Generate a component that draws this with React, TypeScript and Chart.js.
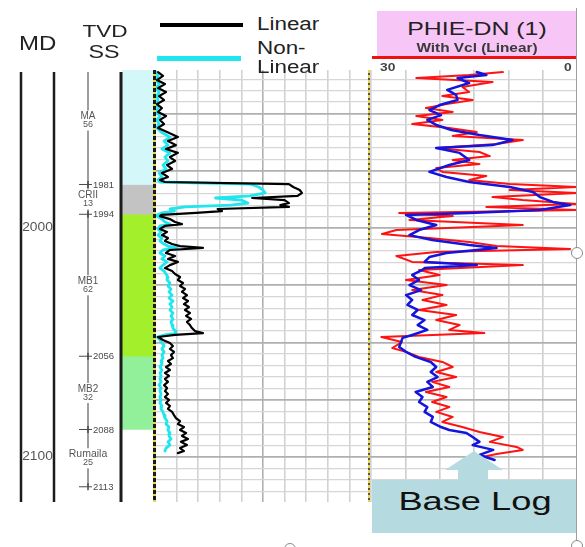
import React, { useEffect, useRef } from 'react';
import { Chart, registerables } from 'chart.js';
Chart.register(...registerables);

const FONT = '"Liberation Sans", Arial, Helvetica, sans-serif';
Chart.defaults.font.family = FONT;

// Depth window shown by the tracks (MD, ft)
const DEPTH_TOP = 1931.0;
const DEPTH_BASE = 2119.65;

// Zonation
const ZONE_NAMES = ['MA', 'CRII', 'MB1', 'MB2', 'Rumaila'];
const ZONE_TOPS = [1925, 1981, 1994, 2056, 2088];
const ZONE_BASES = [1981, 1994, 2056, 2088, 2113];
const ZONE_THICKNESS = [56, 13, 62, 32, 25];
const ZONE_COLORS = ['#d4f7fa', '#c3c3c3', '#a4ef2c', '#92f09a', 'rgba(255,255,255,0)'];
const TVD_MARKERS = [1981, 1994, 2056, 2088, 2113];
const MD_LABELS = [2000, 2100];

// Vcl track (0-100 %)
const VCL_DEPTH = [
  1931.9, 1933.6, 1935.4, 1937.1, 1938.9,
  1940.6, 1942.4, 1944.1, 1945.9, 1947.6,
  1949.3, 1951.1, 1952.8, 1954.6, 1956.3,
  1958.1, 1960.3, 1962.0, 1963.8, 1965.5,
  1967.2, 1969.0, 1970.7, 1972.5, 1974.2,
  1976.0, 1977.7, 1979.0, 1979.9,
  1980.8, 1982.1, 1983.4, 1984.7, 1986.0,
  1986.9, 1987.8, 1989.1, 1990.0, 1990.8,
  1991.7, 1992.6, 1993.4, 1994.3,
  1994.8, 1996.1, 1997.4, 1998.3, 1999.1,
  2000.4, 2001.7, 2003.1, 2004.4, 2005.7,
  2007.0, 2007.9, 2008.7, 2009.6, 2010.9,
  2012.2, 2013.5, 2014.8, 2016.2, 2017.5,
  2018.8, 2020.1, 2021.4, 2022.7, 2024.0,
  2025.3, 2026.6, 2027.9, 2029.3, 2030.6,
  2031.9, 2033.2, 2034.5, 2035.8, 2037.1,
  2038.4, 2039.7, 2041.0, 2042.4, 2043.7,
  2045.0, 2045.9, 2046.7, 2047.6, 2048.9,
  2050.2, 2051.5, 2052.8, 2054.1, 2055.5,
  2056.8, 2058.1, 2059.4, 2060.7, 2062.0,
  2063.3, 2064.6, 2065.9, 2067.2, 2068.6,
  2069.9, 2071.2, 2072.5, 2073.8, 2075.1,
  2076.4, 2077.7, 2079.0, 2080.3, 2081.7,
  2083.0, 2084.3, 2085.6, 2086.9, 2088.2,
  2089.5, 2090.8, 2092.1, 2093.4, 2094.8,
  2096.1, 2097.4, 2098.3,
];
const VCL_LINEAR = [
  1.4, 3.7, 0.9, 4.6, 1.4,
  5.1, 1.9, 4.2, 0.9, 3.2,
  1.4, 5.1, 2.3, 4.2, 1.4,
  5.6, 10.6, 6.0, 9.7, 5.1,
  10.6, 6.9, 9.3, 5.6, 7.9,
  3.2, 6.0, 2.3, 4.6,
  62, 64, 67, 68, 66,
  45, 60, 62, 58, 62,
  29, 31, 19, 3,
  2.3, 6.9, 9.3, 12.5, 4.6,
  2.3, 5.6, 3.2, 6.0, 4.6,
  7.9, 11.6, 22.2, 6.9, 5.1,
  9.3, 6.0, 10.6, 6.9, 4.6,
  7.9, 9.3, 11.6, 10.6, 13.0,
  11.6, 13.9, 12.5, 14.8, 13.0,
  15.3, 13.4, 15.7, 13.9, 16.2,
  14.4, 16.7, 14.8, 16.2, 17.1,
  18.5, 22.2, 9.3, 1.4, 3.7,
  6.9, 8.3, 6.9, 8.8, 7.4,
  8.3, 6.0, 7.4, 5.1, 6.9,
  4.6, 6.5, 4.6, 6.0, 4.2,
  5.6, 4.6, 6.0, 4.6, 6.5,
  5.1, 6.9, 6.0, 7.9, 8.8,
  9.7, 11.6, 10.6, 13.4, 11.6,
  14.4, 12.5, 15.3, 12.0, 14.8,
  11.6, 13.4, 10.6,
];
const VCL_NONLINEAR = [
  0.5, 1.4, 0.5, 1.9, 0.5,
  1.9, 0.9, 1.4, 0.5, 1.4,
  0.5, 2.3, 0.9, 1.9, 0.9,
  2.8, 6.9, 4.2, 6.0, 3.2,
  6.9, 4.6, 6.0, 3.7, 5.1,
  1.9, 3.2, 1.4, 2.3,
  44, 48, 50, 51, 44,
  28, 40, 43, 35, 14,
  7, 9, 3, 1,
  0.9, 3.2, 4.6, 6.9, 2.3,
  1.4, 2.8, 1.4, 3.2, 2.3,
  4.2, 6.0, 10.2, 3.7, 2.3,
  4.6, 3.2, 5.6, 3.7, 2.3,
  4.2, 5.1, 6.0, 5.6, 6.9,
  6.0, 7.4, 6.5, 7.9, 6.5,
  8.3, 6.9, 7.9, 6.9, 8.3,
  7.4, 8.3, 7.4, 7.9, 8.3,
  9.3, 9.7, 4.6, 0.9, 2.3,
  3.2, 4.2, 3.2, 4.2, 3.2,
  3.7, 2.8, 3.2, 2.3, 3.2,
  2.3, 2.8, 2.3, 2.8, 1.9,
  2.8, 2.3, 2.8, 2.3, 2.8,
  2.3, 3.2, 2.8, 3.7, 4.2,
  4.6, 5.6, 5.1, 6.5, 6.0,
  6.9, 6.5, 7.4, 6.0, 6.9,
  5.1, 4.6, null,
];

// PHIE-DN track (30 -> 0 p.u.)
const PHIE_BASE_DEPTH = [
  1931.9, 1933.2, 1934.5, 1936.7, 1939.7,
  1941.9, 1944.1, 1946.3, 1948.5, 1950.7,
  1952.8, 1955.0, 1957.2, 1959.4, 1961.6,
  1963.8, 1965.1, 1967.2, 1970.3, 1972.5,
  1975.5, 1977.7, 1979.9, 1982.1, 1984.3,
  1986.5, 1988.6, 1990.0, 1992.1, 1993.4,
  1994.3, 1996.5, 1998.7, 2000.9, 2003.1,
  2005.2, 2007.4, 2008.7, 2010.9, 2012.7,
  2014.8, 2016.2, 2017.5, 2018.3, 2020.5,
  2022.7, 2024.9, 2027.1, 2029.3, 2031.4,
  2033.6, 2035.8, 2038.0, 2040.2, 2042.4,
  2044.5, 2046.7, 2048.0, 2052.0, 2054.1,
  2056.3, 2058.5, 2060.7, 2062.9, 2065.1,
  2067.2, 2069.4, 2071.6, 2073.8, 2076.0,
  2078.2, 2080.3, 2082.5, 2084.7, 2086.9,
  2088.2, 2089.5, 2091.3, 2093.4, 2094.8,
  2096.9, 2099.1, 2101.3,
];
const PHIE_BASE = [
  14.6, 13.2, 17.4, 15.7, 18.9,
  17.6, 17.4, 20.0, 21.5, 19.8,
  21.8, 20.5, 18.3, 14.2, 9.4,
  12.3, 20.5, 17.1, 15.7, 18.6,
  21.5, 19.0, 15.7, 9.8, 6.4,
  5.4, 3.5, 1.0, 5.4, 15.7,
  24.9, 23.4, 20.5, 23.0, 24.4,
  21.1, 15.7, 11.7, 19.0, 21.5,
  22.2, 14.6, 22.2, 22.5, 24.0,
  23.0, 24.4, 22.7, 24.9, 24.0,
  24.7, 23.2, 24.0, 22.2, 23.2,
  21.8, 24.0, 25.4, 25.9, 24.9,
  23.5, 21.3, 20.5, 21.3, 20.3,
  21.8, 21.0, 23.5, 22.5, 23.0,
  21.8, 22.2, 21.0, 21.3, 19.8,
  18.6, 16.1, 15.2, 14.2, 15.2,
  12.2, 14.2, 12.0,
];
const PHIE_LINEAR_DEPTH = [
  1931.9, 1933.2, 1934.5, 1936.2, 1938.4,
  1940.6, 1942.4, 1944.1, 1945.9, 1947.6,
  1949.3, 1951.1, 1952.8, 1954.6, 1956.3,
  1958.1, 1959.8, 1961.6, 1963.3, 1965.1,
  1966.8, 1968.6, 1970.3, 1972.1, 1973.8,
  1975.5, 1977.3, 1979.0, 1980.8, 1982.1,
  1983.4, 1984.7, 1986.5, 1987.8, 1989.5,
  1990.8, 1992.1, 1993.4, 1994.8, 1996.5,
  1998.7, 2000.9, 2002.6, 2004.4, 2006.1,
  2007.9, 2009.2, 2010.5, 2012.2, 2014.8,
  2016.2, 2018.3, 2020.5, 2022.7, 2024.9,
  2027.1, 2029.3, 2031.4, 2033.6, 2035.8,
  2038.0, 2040.2, 2042.4, 2044.5, 2045.9,
  2047.6, 2049.8, 2052.4, 2054.1, 2056.3,
  2058.5, 2060.7, 2062.9, 2065.1, 2067.2,
  2069.4, 2071.6, 2073.8, 2076.0, 2078.2,
  2080.3, 2082.5, 2084.7, 2086.9, 2089.1,
  2091.3, 2093.4, 2095.6, 2096.9, 2098.7,
  2100.0,
];
const PHIE_LINEAR = [
  10.8, 15.7, 23.4, 12.3, 16.7,
  15.7, 19.6, 15.2, 19.0, 22.0,
  18.1, 23.4, 19.6, 24.0, 18.6,
  14.6, 18.1, 7.9, 11.7, 20.5,
  14.2, 12.7, 18.1, 14.2, 20.5,
  19.6, 13.2, 15.7, 9.8, 0,
  9.8, 0, 12.3, 7.9, 0,
  13.2, 0, 25.9, 18.1, 24.4,
  7.9, 26.3, 28.4, 21.5, 15.7,
  11.7, 1.0, 20.5, 26.3, 24.0,
  7.9, 23.0, 20.0, 24.9, 19.0,
  24.0, 19.6, 22.5, 19.0, 23.0,
  17.6, 20.5, 17.1, 18.6, 13.5,
  28.5, 25.5, 26.9, 24.9, 23.0,
  19.6, 18.1, 20.5, 17.6, 21.1,
  18.6, 22.0, 19.0, 21.1, 18.6,
  20.5, 18.1, 19.6, 16.7, 14.2,
  10.8, 12.7, 8.8, 7.9, 11.7,
  13.8,
];

const depthTicks = (scale: any) => {
  const t: { value: number }[] = [];
  for (let v = 1935; v <= 2115; v += 5) t.push({ value: v });
  scale.ticks = t;
};
const yGrid = {
  drawTicks: false,
  color: (c: any) => (c.tick && c.tick.value % 25 === 0 ? '#b0b0b0' : '#d6d6d6'),
  lineWidth: (c: any) => (c.tick && c.tick.value % 25 === 0 ? 1.7 : 1.2),
};

const mdTvdPlugin = {
  id: 'mdTvd',
  afterDraw(chart: any) {
    const { ctx, chartArea: a, scales } = chart;
    const py = (d: number) => scales.y.getPixelForValue(d);
    ctx.save();
    ctx.strokeStyle = '#1c1c1c';
    ctx.lineWidth = 2.5;
    for (const x of [21, 54]) {
      ctx.beginPath(); ctx.moveTo(x, a.top + 2); ctx.lineTo(x, a.bottom); ctx.stroke();
    }
    ctx.lineWidth = 3;
    ctx.beginPath(); ctx.moveTo(121, a.top + 2); ctx.lineTo(121, a.bottom); ctx.stroke();

    // TVD centre line, broken around zone labels
    const cx = 88;
    const end = py(TVD_MARKERS[TVD_MARKERS.length - 1]) - 1;
    ctx.strokeStyle = '#7d7d7d';
    ctx.lineWidth = 1.5;
    let s = a.top + 2;
    const seg = (y0: number, y1: number) => {
      if (y1 <= y0) return;
      ctx.beginPath(); ctx.moveTo(cx, y0); ctx.lineTo(cx, y1); ctx.stroke();
    };
    ZONE_NAMES.forEach((_, i) => {
      const c = py((ZONE_TOPS[i] + ZONE_BASES[i]) / 2);
      seg(s, Math.min(c - 10, end));
      s = c + 10;
    });
    seg(s, end);

    // markers
    ctx.fillStyle = '#4a4a4a';
    ctx.strokeStyle = '#4a4a4a';
    ctx.font = `9.5px ${FONT}`;
    ctx.textBaseline = 'middle';
    ctx.textAlign = 'left';
    TVD_MARKERS.forEach((m) => {
      const y = py(m);
      ctx.lineWidth = 1;
      ctx.beginPath(); ctx.moveTo(79, y); ctx.lineTo(92, y); ctx.stroke();
      ctx.lineWidth = 1.5;
      ctx.beginPath(); ctx.moveTo(cx, y - 3.5); ctx.lineTo(cx, y + 3.5); ctx.stroke();
      ctx.fillText(String(m), 93, y + 0.5);
    });

    // zone labels
    ctx.textAlign = 'center';
    ctx.fillStyle = '#555';
    ZONE_NAMES.forEach((n, i) => {
      const c = py((ZONE_TOPS[i] + ZONE_BASES[i]) / 2);
      ctx.font = `${n.length > 4 ? 10.5 : 10}px ${FONT}`;
      ctx.fillText(n, cx, c - 4);
      ctx.font = `9px ${FONT}`;
      ctx.fillText(String(ZONE_THICKNESS[i]), cx, c + 4.5);
    });

    // MD labels
    ctx.font = `12px ${FONT}`;
    ctx.fillStyle = '#555';
    MD_LABELS.forEach((d) => {
      ctx.save();
      ctx.translate(37.5, py(d));
      ctx.scale(1.15, 1);
      ctx.fillText(String(d), 0, 0);
      ctx.restore();
    });
    ctx.restore();
  },
};

type TP = { x: number; base: number; size: number; sx?: number; w?: number; c?: string; align?: 'left' | 'center'; children: any };
function Txt({ x, base, size, sx = 1, w = 400, c = '#222', align = 'left', children }: TP) {
  const style: any = {
    position: 'absolute', top: base - 0.85 * size, left: x, whiteSpace: 'nowrap',
    fontSize: size, lineHeight: `${size}px`, fontWeight: w, color: c, fontFamily: FONT,
  };
  if (align === 'center') {
    style.transform = `translateX(-50%) scaleX(${sx})`;
    style.transformOrigin = 'center top';
  } else {
    style.transform = `scaleX(${sx})`;
    style.transformOrigin = 'left top';
  }
  return <div style={style}>{children}</div>;
}

const abs = (l: number, t: number, w: number, h: number, extra: any = {}) => ({
  position: 'absolute' as const, left: l, top: t, width: w, height: h, ...extra,
});

export default function App() {
  const mdRef = useRef<HTMLCanvasElement>(null);
  const zoneRef = useRef<HTMLCanvasElement>(null);
  const vclRef = useRef<HTMLCanvasElement>(null);
  const phieRef = useRef<HTMLCanvasElement>(null);

  useEffect(() => {
    const charts: Chart[] = [];
    const base: any = {
      animation: false, responsive: false, maintainAspectRatio: false,
      layout: { padding: 0 },
      plugins: { legend: { display: false }, tooltip: { enabled: false } },
    };

    charts.push(new Chart(zoneRef.current!, {
      type: 'bar',
      data: {
        labels: ['Zone'],
        datasets: ZONE_NAMES.map((n, i) => ({
          label: n, data: [[ZONE_TOPS[i], ZONE_BASES[i]]] as any,
          backgroundColor: ZONE_COLORS[i], borderWidth: 0,
          grouped: false, barPercentage: 1, categoryPercentage: 1,
        })),
      },
      options: {
        ...base,
        scales: {
          x: { display: false },
          y: { display: false, reverse: true, min: DEPTH_TOP, max: DEPTH_BASE },
        },
      },
    } as any));

    charts.push(new Chart(mdRef.current!, {
      type: 'scatter',
      data: { datasets: [] },
      options: {
        ...base,
        scales: {
          x: { display: false, min: 0, max: 1 },
          y: { display: false, reverse: true, min: DEPTH_TOP, max: DEPTH_BASE },
        },
      },
      plugins: [mdTvdPlugin],
    } as any));

    const lineDs = (label: string, xs: (number | null)[], ds: number[], color: string, width: number) => ({
      label,
      data: ds.map((d, i) => ({ x: xs[i], y: d })).filter((p) => p.x !== null),
      showLine: true, borderColor: color, borderWidth: width, pointRadius: 0,
      borderJoinStyle: 'round', borderCapStyle: 'round', tension: 0,
    });

    charts.push(new Chart(vclRef.current!, {
      type: 'scatter',
      data: {
        datasets: [
          lineDs('Linear', VCL_LINEAR, VCL_DEPTH, '#000000', 2.2),
          lineDs('Non-Linear', VCL_NONLINEAR, VCL_DEPTH, '#1fe6ef', 2.8),
        ],
      },
      options: {
        ...base,
        scales: {
          x: {
            type: 'linear', min: 0, max: 100,
            ticks: { display: false, stepSize: 10 },
            grid: {
              drawTicks: false,
              color: (c: any) => (c.tick && c.tick.value === 50 ? '#b0b0b0' : '#d2d2d2'),
              lineWidth: 1.6,
            },
            border: { display: false },
          },
          y: {
            type: 'linear', reverse: true, min: DEPTH_TOP, max: DEPTH_BASE,
            afterBuildTicks: depthTicks,
            ticks: { display: false }, grid: yGrid, border: { display: false },
          },
        },
      },
    } as any));

    charts.push(new Chart(phieRef.current!, {
      type: 'scatter',
      data: {
        datasets: [
          lineDs('Base Log', PHIE_BASE, PHIE_BASE_DEPTH, '#1414dc', 2.5),
          lineDs('PHIE-DN Linear', PHIE_LINEAR, PHIE_LINEAR_DEPTH, '#ff1212', 2),
        ],
      },
      options: {
        ...base,
        scales: {
          x: {
            type: 'linear', min: 0, max: 30, reverse: true,
            ticks: { display: false, stepSize: 5 },
            grid: { drawTicks: false, color: '#cdcdcd', lineWidth: 1.6 },
            border: { display: false },
          },
          y: {
            type: 'linear', reverse: true, min: DEPTH_TOP, max: DEPTH_BASE,
            afterBuildTicks: depthTicks,
            ticks: { display: false }, grid: yGrid, border: { display: false },
          },
        },
      },
    } as any));

    return () => charts.forEach((c) => c.destroy());
  }, []);

  const cv = (l: number, w: number) => ({ position: 'absolute' as const, left: l, top: 70, width: w, height: 432 });

  return (
    <div style={{ position: 'fixed', left: 0, top: 0, width: 585, height: 547, background: '#fff', overflow: 'hidden', fontFamily: FONT }}>
      <canvas ref={zoneRef} width={31} height={432} style={cv(122, 31)} />
      <canvas ref={mdRef} width={125} height={432} style={cv(0, 125)} />
      <canvas ref={vclRef} width={216} height={432} style={cv(155, 216)} />
      <canvas ref={phieRef} width={206} height={432} style={cv(371, 206)} />

      {/* track borders */}
      <div style={abs(153, 70, 3, 432, { background: 'repeating-linear-gradient(to bottom, #1a1a1a 0px, #1a1a1a 4px, #e6d64a 4px, #e6d64a 6px)' })} />
      <div style={abs(368, 70, 2, 432, { background: 'repeating-linear-gradient(to bottom, #e8d44a 0px, #e8d44a 3px, #555 3px, #555 5px)' })} />

      {/* left headers */}
      <Txt x={19} base={50} size={20} sx={1.2}>MD</Txt>
      <Txt x={105} base={37} size={17} sx={1.33} align="center">TVD</Txt>
      <Txt x={104} base={58.5} size={17.5} sx={1.33} align="center">SS</Txt>

      {/* legend */}
      <div style={abs(160, 23, 83, 4, { background: '#000' })} />
      <Txt x={257} base={31} size={17.5} sx={1.28}>Linear</Txt>
      <div style={abs(157, 56, 84, 5, { background: '#1fe6ef' })} />
      <Txt x={257} base={55} size={17.5} sx={1.28}>Non-</Txt>
      <Txt x={257} base={74} size={17.5} sx={1.28}>Linear</Txt>

      {/* PHIE header */}
      <div style={abs(377, 11, 199, 45, { background: '#f8c6f6' })} />
      <Txt x={477} base={35} size={18} sx={1.38} align="center">PHIE-DN (1)</Txt>
      <Txt x={477} base={52} size={12} w={700} sx={1.28} c="#3a3a3a" align="center">With Vcl (Linear)</Txt>
      <div style={abs(372, 56, 205, 3, { background: '#f01010' })} />
      <Txt x={380} base={71.5} size={11.5} w={700} sx={1.2} c="#444">30</Txt>
      <Txt x={564} base={71.5} size={11.5} w={700} sx={1.2} c="#444">0</Txt>

      {/* Base Log callout */}
      <svg style={abs(372, 448, 206, 36)} width={206} height={36}>
        <polygon points="102,3 131,22 116,22 116,36 86,36 86,22 73,22" fill="#b5dbe0" />
      </svg>
      <div style={abs(372, 480, 205, 53, { background: '#b5dbe0' })} />
      <Txt x={474.5} base={510} size={25} sx={1.45} c="#111" align="center">Base Log</Txt>

      {/* frame handle line */}
      <div style={abs(575.5, 8, 1.5, 538, { background: '#a0a0a0' })} />
      <div style={abs(571, 247, 12, 12, { borderRadius: '50%', border: '1.5px solid #8a8a8a', background: '#fff', boxSizing: 'border-box' })} />
      <div style={abs(571, 540, 12, 12, { borderRadius: '50%', border: '1.5px solid #8a8a8a', background: '#fff', boxSizing: 'border-box' })} />
      <div style={abs(284, 543, 12, 12, { borderRadius: '50%', border: '1.5px solid #8a8a8a', background: '#fff', boxSizing: 'border-box' })} />
    </div>
  );
}
